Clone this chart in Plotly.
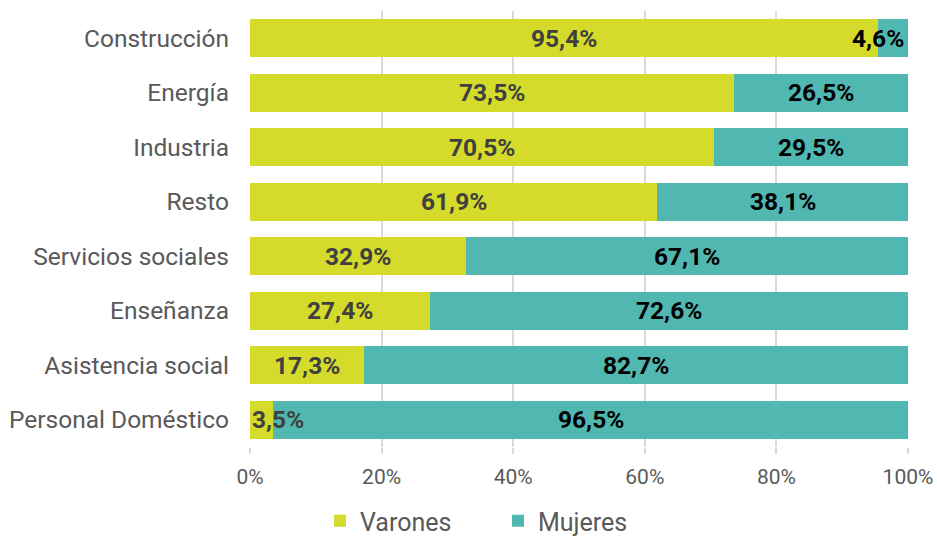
import plotly.graph_objects as go

categories = ["Construcción", "Energía", "Industria", "Resto", "Servicios sociales",
              "Enseñanza", "Asistencia social", "Personal Doméstico"]
varones = [95.4, 73.5, 70.5, 61.9, 32.9, 27.4, 17.3, 3.5]
mujeres = [4.6, 26.5, 29.5, 38.1, 67.1, 72.6, 82.7, 96.5]
x_ticks = [0, 20, 40, 60, 80, 100]
x_tick_labels = ["0%", "20%", "40%", "60%", "80%", "100%"]

C_V = "#d4db2b"
C_M = "#50b8b0"
LBL = 24.5

def fmt(v):
    return f"{v:.1f}".replace(".", ",") + "%"

fig = go.Figure()
fig.add_trace(go.Bar(y=categories, x=varones, name="Varones", orientation="h",
                     marker=dict(color=C_V, line=dict(width=0)), hoverinfo="skip"))
fig.add_trace(go.Bar(y=categories, x=mujeres, name="Mujeres", orientation="h",
                     marker=dict(color=C_M, line=dict(width=0)), hoverinfo="skip"))

annotations = []
for c, v, m in zip(categories, varones, mujeres):
    if v < 8:
        annotations.append(dict(x=0, y=c, xref="x", yref="y", text=f"<b>{fmt(v)}</b>",
                                showarrow=False, xanchor="left", xshift=0,
                                font=dict(size=LBL, color="#404040", family="Roboto")))
    else:
        annotations.append(dict(x=v / 2, y=c, xref="x", yref="y", text=f"<b>{fmt(v)}</b>",
                                showarrow=False, xanchor="center",
                                font=dict(size=LBL, color="#404040", family="Roboto")))
    if m < 8:
        annotations.append(dict(x=100, y=c, xref="x", yref="y", text=f"<b>{fmt(m)}</b>",
                                showarrow=False, xanchor="right", xshift=-2,
                                font=dict(size=LBL, color="#000000", family="Roboto")))
    else:
        annotations.append(dict(x=v + m / 2, y=c, xref="x", yref="y", text=f"<b>{fmt(m)}</b>",
                                showarrow=False, xanchor="center",
                                font=dict(size=LBL, color="#000000", family="Roboto")))

fig.update_layout(
    width=937, height=537,
    barmode="stack", bargap=0.3,
    margin=dict(l=250, r=29, t=11, b=90, autoexpand=False),
    paper_bgcolor="white", plot_bgcolor="white",
    font=dict(family="Roboto", color="#595959"),
    showlegend=True,
    legend=dict(orientation="h", x=320 / 937, xanchor="left", xref="container",
                y=16 / 537, yanchor="middle", yref="container",
                font=dict(size=25, color="#595959"),
                itemwidth=30, traceorder="normal",
                entrywidth=133, entrywidthmode="pixels"),
    annotations=annotations,
)
fig.update_xaxes(range=[0, 100], tickvals=x_ticks, ticktext=x_tick_labels,
                 showgrid=True, gridcolor="#d9d9d9", gridwidth=1.5,
                 ticks="outside", ticklen=6, tickcolor="#d9d9d9", tickwidth=1.5,
                 ticklabelstandoff=5,
                 tickfont=dict(size=21, color="#595959"), zeroline=False,
                 showline=False, fixedrange=True, automargin=False)
fig.update_yaxes(categoryorder="array", categoryarray=categories, autorange="reversed",
                 tickfont=dict(size=24.5, color="#595959"), ticklabelstandoff=20,
                 showgrid=False, zeroline=False, showline=False, automargin=False)

fig.write_html("out.html")
